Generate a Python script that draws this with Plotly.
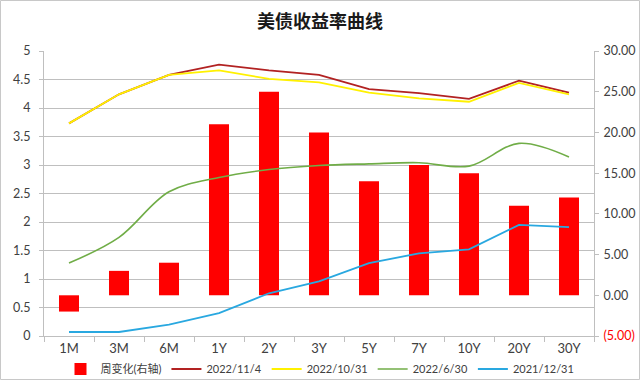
import plotly.graph_objects as go

tenors = ["1M", "3M", "6M", "1Y", "2Y", "3Y", "5Y", "7Y", "10Y", "20Y", "30Y"]
weekly_change = [-2, 3, 4, 21, 25, 20, 14, 16, 15, 11, 12]
y_2022_11_4 = [3.73, 4.24, 4.58, 4.76, 4.66, 4.58, 4.33, 4.26, 4.16, 4.48, 4.27]
y_2022_10_31 = [3.73, 4.24, 4.58, 4.66, 4.51, 4.45, 4.27, 4.17, 4.11, 4.44, 4.24]
y_2022_6_30 = [1.28, 1.73, 2.53, 2.78, 2.92, 2.99, 3.02, 3.04, 2.98, 3.38, 3.14]
y_2021_12_31 = [0.07, 0.07, 0.20, 0.40, 0.75, 0.96, 1.28, 1.45, 1.52, 1.95, 1.91]

right_ticks = [-5, 0, 5, 10, 15, 20, 25, 30]
right_ticktext = ["<span style='color:#FF0000'>(5.00)</span>", "0.00", "5.00", "10.00",
                  "15.00", "20.00", "25.00", "30.00"]

fig = go.Figure()
fig.add_trace(go.Bar(x=tenors, y=weekly_change, name="周变化(右轴)", yaxis="y",
                     marker=dict(color="#FF0000", line=dict(width=0)), width=0.4))
fig.add_trace(go.Scatter(x=tenors, y=y_2022_11_4, name="2022/11/4", yaxis="y2", mode="lines",
                         line=dict(color="#B22222", width=1.8)))
fig.add_trace(go.Scatter(x=tenors, y=y_2022_10_31, name="2022/10/31", yaxis="y2", mode="lines",
                         line=dict(color="#FFF100", width=1.8)))
fig.add_trace(go.Scatter(x=tenors, y=y_2022_6_30, name="2022/6/30", yaxis="y2", mode="lines",
                         line=dict(color="#70AD47", width=1.6, shape="spline", smoothing=1.0)))
fig.add_trace(go.Scatter(x=tenors, y=y_2021_12_31, name="2021/12/31", yaxis="y2", mode="lines",
                         line=dict(color="#29A8E0", width=1.8)))

axis_gray = "#BFBFBF"
L, R, T, B = 44, 46, 51, 44
W, H = 640, 380
pw, ph = W - L - R, H - T - B

fig.update_layout(
    width=W, height=H, autosize=False,
    margin=dict(l=L, r=R, t=T, b=B, pad=0, autoexpand=False),
    paper_bgcolor="white", plot_bgcolor="white",
    font=dict(family="Lato, 'Noto Sans CJK SC', sans-serif", size=12, color="#404040"),
    title=dict(text="<b>美债收益率曲线</b>", x=0.5, xref="container", xanchor="center",
               y=1 - 22 / H, yref="container", yanchor="middle",
               font=dict(family="'Noto Sans CJK SC', sans-serif", size=18, color="#1a1a1a")),
    showlegend=True,
    legend=dict(orientation="h", x=0.5, xanchor="center", xref="container",
                y=1 - 369 / H, yanchor="middle", yref="container",
                font=dict(size=11, color="#404040"), traceorder="normal",
                bgcolor="rgba(0,0,0,0)", itemwidth=30),
    xaxis=dict(type="category", range=[-0.5, 10.5], tickson="boundaries", ticks="outside",
               ticklen=5, tickcolor=axis_gray, showline=True, linecolor=axis_gray,
               showgrid=False, automargin=False, tickfont=dict(size=13, color="#404040")),
    yaxis=dict(side="right", range=[-5, 30], tickvals=right_ticks, ticktext=right_ticktext,
               showgrid=False, zeroline=False, showline=True, linecolor=axis_gray,
               ticks="outside", ticklen=4, tickcolor=axis_gray, ticklabelstandoff=2,
               automargin=False, tickfont=dict(size=12.5, color="#404040")),
    yaxis2=dict(side="left", overlaying="y", range=[0, 5], dtick=0.5, tick0=0,
                showgrid=True, gridcolor=axis_gray, gridwidth=1, zeroline=False,
                showline=True, linecolor=axis_gray, ticks="outside", ticklen=4,
                tickcolor=axis_gray, ticklabelstandoff=6, automargin=False,
                tickfont=dict(size=12.5, color="#404040")),
    shapes=[dict(type="rect", xref="paper", yref="paper",
                 x0=(0.5 - L) / pw, x1=(W - 0.5 - L) / pw,
                 y0=-(B - 0.5) / ph, y1=1 + (T - 0.5) / ph,
                 line=dict(color="#C8C8C8", width=1), fillcolor="rgba(0,0,0,0)", layer="below")],
)

fig.write_html("out.html")
